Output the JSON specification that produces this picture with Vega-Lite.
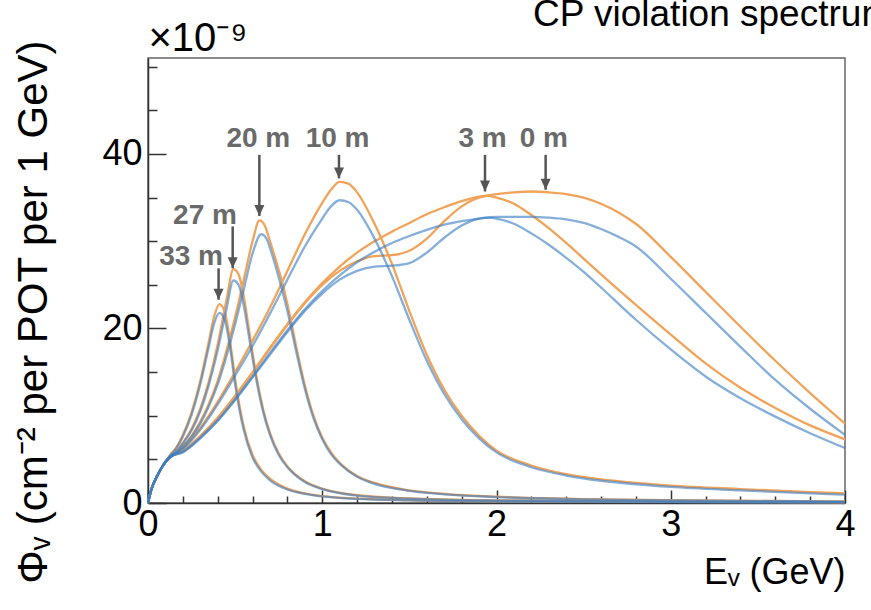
{
"$schema": "https://vega.github.io/schema/vega-lite/v6.json",
"width": 697, "height": 445,
"autosize": {"type": "none"},
"padding": {"left": 148, "top": 58, "right": 26, "bottom": 107},
"background": "white",
"config": {"view": {"stroke": "#666", "strokeWidth": 1.5}, "font": "Liberation Sans"},
"title": {"text": "CP violation spectrum", "anchor": "start", "frame": "group", "dx": 385, "dy": 45, "offset": 0, "baseline": "alphabetic", "fontSize": 37, "fontWeight": "normal", "color": "black", "font": "Liberation Sans"},
"datasets": {
"curves": [
{"d":"33 m","s":"o","E":0,"f":0},{"d":"33 m","s":"o","E":0.02,"f":1.6},{"d":"33 m","s":"o","E":0.05,"f":3.0},{"d":"33 m","s":"o","E":0.08,"f":4.1},{"d":"33 m","s":"o","E":0.1,"f":4.7},{"d":"33 m","s":"o","E":0.13,"f":5.6},{"d":"33 m","s":"o","E":0.16,"f":6.3},{"d":"33 m","s":"o","E":0.2,"f":7.8},{"d":"33 m","s":"o","E":0.25,"f":10.4},{"d":"33 m","s":"o","E":0.3,"f":14.0},{"d":"33 m","s":"o","E":0.35,"f":18.6},{"d":"33 m","s":"o","E":0.38,"f":21.4},{"d":"33 m","s":"o","E":0.41,"f":22.8},{"d":"33 m","s":"o","E":0.44,"f":21.9},{"d":"33 m","s":"o","E":0.47,"f":18.7},{"d":"33 m","s":"o","E":0.5,"f":14.2},{"d":"33 m","s":"o","E":0.55,"f":8.7},{"d":"33 m","s":"o","E":0.6,"f":5.5},{"d":"33 m","s":"o","E":0.65,"f":3.8},{"d":"33 m","s":"o","E":0.7,"f":2.8},{"d":"33 m","s":"o","E":0.8,"f":1.65},{"d":"33 m","s":"o","E":0.9,"f":1.1},{"d":"33 m","s":"o","E":1.0,"f":0.8},{"d":"33 m","s":"o","E":1.2,"f":0.5},{"d":"33 m","s":"o","E":1.5,"f":0.32},{"d":"33 m","s":"o","E":2.0,"f":0.2},{"d":"33 m","s":"o","E":3.0,"f":0.12},{"d":"33 m","s":"o","E":4.0,"f":0.08},
{"d":"33 m","s":"b","E":0,"f":0},{"d":"33 m","s":"b","E":0.02,"f":1.6},{"d":"33 m","s":"b","E":0.05,"f":3.0},{"d":"33 m","s":"b","E":0.08,"f":4.1},{"d":"33 m","s":"b","E":0.1,"f":4.7},{"d":"33 m","s":"b","E":0.13,"f":5.5},{"d":"33 m","s":"b","E":0.16,"f":6.2},{"d":"33 m","s":"b","E":0.2,"f":7.6},{"d":"33 m","s":"b","E":0.25,"f":10.1},{"d":"33 m","s":"b","E":0.3,"f":13.6},{"d":"33 m","s":"b","E":0.35,"f":18.0},{"d":"33 m","s":"b","E":0.38,"f":20.6},{"d":"33 m","s":"b","E":0.41,"f":21.8},{"d":"33 m","s":"b","E":0.44,"f":21.0},{"d":"33 m","s":"b","E":0.47,"f":18.0},{"d":"33 m","s":"b","E":0.5,"f":13.6},{"d":"33 m","s":"b","E":0.55,"f":8.3},{"d":"33 m","s":"b","E":0.6,"f":5.2},{"d":"33 m","s":"b","E":0.65,"f":3.6},{"d":"33 m","s":"b","E":0.7,"f":2.6},{"d":"33 m","s":"b","E":0.8,"f":1.55},{"d":"33 m","s":"b","E":0.9,"f":1.05},{"d":"33 m","s":"b","E":1.0,"f":0.75},{"d":"33 m","s":"b","E":1.2,"f":0.47},{"d":"33 m","s":"b","E":1.5,"f":0.3},{"d":"33 m","s":"b","E":2.0,"f":0.18},{"d":"33 m","s":"b","E":3.0,"f":0.1},{"d":"33 m","s":"b","E":4.0,"f":0.07},
{"d":"27 m","s":"o","E":0,"f":0},{"d":"27 m","s":"o","E":0.02,"f":1.6},{"d":"27 m","s":"o","E":0.05,"f":3.0},{"d":"27 m","s":"o","E":0.08,"f":4.1},{"d":"27 m","s":"o","E":0.1,"f":4.7},{"d":"27 m","s":"o","E":0.13,"f":5.4},{"d":"27 m","s":"o","E":0.16,"f":5.9},{"d":"27 m","s":"o","E":0.2,"f":6.9},{"d":"27 m","s":"o","E":0.25,"f":8.5},{"d":"27 m","s":"o","E":0.3,"f":10.8},{"d":"27 m","s":"o","E":0.35,"f":14.0},{"d":"27 m","s":"o","E":0.4,"f":18.2},{"d":"27 m","s":"o","E":0.45,"f":23.2},{"d":"27 m","s":"o","E":0.49,"f":26.8},{"d":"27 m","s":"o","E":0.52,"f":26.2},{"d":"27 m","s":"o","E":0.55,"f":23.6},{"d":"27 m","s":"o","E":0.58,"f":19.8},{"d":"27 m","s":"o","E":0.62,"f":14.8},{"d":"27 m","s":"o","E":0.66,"f":10.8},{"d":"27 m","s":"o","E":0.7,"f":8.0},{"d":"27 m","s":"o","E":0.75,"f":5.7},{"d":"27 m","s":"o","E":0.8,"f":4.2},{"d":"27 m","s":"o","E":0.9,"f":2.5},{"d":"27 m","s":"o","E":1.0,"f":1.65},{"d":"27 m","s":"o","E":1.2,"f":0.9},{"d":"27 m","s":"o","E":1.5,"f":0.52},{"d":"27 m","s":"o","E":2.0,"f":0.3},{"d":"27 m","s":"o","E":3.0,"f":0.16},{"d":"27 m","s":"o","E":4.0,"f":0.1},
{"d":"27 m","s":"b","E":0,"f":0},{"d":"27 m","s":"b","E":0.02,"f":1.6},{"d":"27 m","s":"b","E":0.05,"f":3.0},{"d":"27 m","s":"b","E":0.08,"f":4.1},{"d":"27 m","s":"b","E":0.1,"f":4.7},{"d":"27 m","s":"b","E":0.13,"f":5.4},{"d":"27 m","s":"b","E":0.16,"f":5.8},{"d":"27 m","s":"b","E":0.2,"f":6.8},{"d":"27 m","s":"b","E":0.25,"f":8.3},{"d":"27 m","s":"b","E":0.3,"f":10.5},{"d":"27 m","s":"b","E":0.35,"f":13.6},{"d":"27 m","s":"b","E":0.4,"f":17.5},{"d":"27 m","s":"b","E":0.45,"f":22.2},{"d":"27 m","s":"b","E":0.49,"f":25.5},{"d":"27 m","s":"b","E":0.52,"f":25.0},{"d":"27 m","s":"b","E":0.55,"f":22.6},{"d":"27 m","s":"b","E":0.58,"f":19.0},{"d":"27 m","s":"b","E":0.62,"f":14.3},{"d":"27 m","s":"b","E":0.66,"f":10.5},{"d":"27 m","s":"b","E":0.7,"f":7.8},{"d":"27 m","s":"b","E":0.75,"f":5.5},{"d":"27 m","s":"b","E":0.8,"f":4.1},{"d":"27 m","s":"b","E":0.9,"f":2.4},{"d":"27 m","s":"b","E":1.0,"f":1.6},{"d":"27 m","s":"b","E":1.2,"f":0.85},{"d":"27 m","s":"b","E":1.5,"f":0.5},{"d":"27 m","s":"b","E":2.0,"f":0.28},{"d":"27 m","s":"b","E":3.0,"f":0.15},{"d":"27 m","s":"b","E":4.0,"f":0.09},
{"d":"20 m","s":"o","E":0,"f":0},{"d":"20 m","s":"o","E":0.02,"f":1.6},{"d":"20 m","s":"o","E":0.05,"f":3.0},{"d":"20 m","s":"o","E":0.08,"f":4.1},{"d":"20 m","s":"o","E":0.1,"f":4.7},{"d":"20 m","s":"o","E":0.13,"f":5.3},{"d":"20 m","s":"o","E":0.16,"f":5.8},{"d":"20 m","s":"o","E":0.2,"f":6.5},{"d":"20 m","s":"o","E":0.25,"f":7.7},{"d":"20 m","s":"o","E":0.3,"f":9.3},{"d":"20 m","s":"o","E":0.35,"f":11.4},{"d":"20 m","s":"o","E":0.4,"f":14.0},{"d":"20 m","s":"o","E":0.45,"f":17.4},{"d":"20 m","s":"o","E":0.5,"f":21.3},{"d":"20 m","s":"o","E":0.55,"f":25.6},{"d":"20 m","s":"o","E":0.6,"f":30.0},{"d":"20 m","s":"o","E":0.64,"f":32.4},{"d":"20 m","s":"o","E":0.67,"f":31.8},{"d":"20 m","s":"o","E":0.7,"f":30.0},{"d":"20 m","s":"o","E":0.74,"f":27.4},{"d":"20 m","s":"o","E":0.77,"f":25.3},{"d":"20 m","s":"o","E":0.8,"f":22.8},{"d":"20 m","s":"o","E":0.85,"f":18.0},{"d":"20 m","s":"o","E":0.9,"f":13.5},{"d":"20 m","s":"o","E":0.95,"f":10.0},{"d":"20 m","s":"o","E":1.0,"f":7.5},{"d":"20 m","s":"o","E":1.05,"f":5.8},{"d":"20 m","s":"o","E":1.1,"f":4.6},{"d":"20 m","s":"o","E":1.2,"f":3.1},{"d":"20 m","s":"o","E":1.3,"f":2.3},{"d":"20 m","s":"o","E":1.5,"f":1.45},{"d":"20 m","s":"o","E":1.7,"f":1.05},{"d":"20 m","s":"o","E":2.0,"f":0.72},{"d":"20 m","s":"o","E":2.5,"f":0.45},{"d":"20 m","s":"o","E":3.0,"f":0.32},{"d":"20 m","s":"o","E":4.0,"f":0.18},
{"d":"20 m","s":"b","E":0,"f":0},{"d":"20 m","s":"b","E":0.02,"f":1.6},{"d":"20 m","s":"b","E":0.05,"f":3.0},{"d":"20 m","s":"b","E":0.08,"f":4.1},{"d":"20 m","s":"b","E":0.1,"f":4.7},{"d":"20 m","s":"b","E":0.13,"f":5.3},{"d":"20 m","s":"b","E":0.16,"f":5.7},{"d":"20 m","s":"b","E":0.2,"f":6.4},{"d":"20 m","s":"b","E":0.25,"f":7.6},{"d":"20 m","s":"b","E":0.3,"f":9.1},{"d":"20 m","s":"b","E":0.35,"f":11.1},{"d":"20 m","s":"b","E":0.4,"f":13.6},{"d":"20 m","s":"b","E":0.45,"f":16.8},{"d":"20 m","s":"b","E":0.5,"f":20.5},{"d":"20 m","s":"b","E":0.55,"f":24.5},{"d":"20 m","s":"b","E":0.6,"f":28.6},{"d":"20 m","s":"b","E":0.65,"f":30.8},{"d":"20 m","s":"b","E":0.68,"f":30.3},{"d":"20 m","s":"b","E":0.71,"f":28.6},{"d":"20 m","s":"b","E":0.74,"f":26.6},{"d":"20 m","s":"b","E":0.77,"f":24.4},{"d":"20 m","s":"b","E":0.8,"f":22.0},{"d":"20 m","s":"b","E":0.85,"f":17.4},{"d":"20 m","s":"b","E":0.9,"f":13.1},{"d":"20 m","s":"b","E":0.95,"f":9.7},{"d":"20 m","s":"b","E":1.0,"f":7.3},{"d":"20 m","s":"b","E":1.05,"f":5.6},{"d":"20 m","s":"b","E":1.1,"f":4.5},{"d":"20 m","s":"b","E":1.2,"f":3.0},{"d":"20 m","s":"b","E":1.3,"f":2.2},{"d":"20 m","s":"b","E":1.5,"f":1.4},{"d":"20 m","s":"b","E":1.7,"f":1.0},{"d":"20 m","s":"b","E":2.0,"f":0.68},{"d":"20 m","s":"b","E":2.5,"f":0.42},{"d":"20 m","s":"b","E":3.0,"f":0.3},{"d":"20 m","s":"b","E":4.0,"f":0.16},
{"d":"10 m","s":"o","E":0,"f":0},{"d":"10 m","s":"o","E":0.02,"f":1.6},{"d":"10 m","s":"o","E":0.05,"f":3.0},{"d":"10 m","s":"o","E":0.08,"f":4.1},{"d":"10 m","s":"o","E":0.1,"f":4.7},{"d":"10 m","s":"o","E":0.13,"f":5.3},{"d":"10 m","s":"o","E":0.2,"f":6.3},{"d":"10 m","s":"o","E":0.3,"f":8.6},{"d":"10 m","s":"o","E":0.4,"f":11.6},{"d":"10 m","s":"o","E":0.5,"f":15.0},{"d":"10 m","s":"o","E":0.6,"f":18.6},{"d":"10 m","s":"o","E":0.7,"f":22.4},{"d":"10 m","s":"o","E":0.8,"f":26.6},{"d":"10 m","s":"o","E":0.9,"f":30.8},{"d":"10 m","s":"o","E":1.0,"f":34.4},{"d":"10 m","s":"o","E":1.05,"f":35.9},{"d":"10 m","s":"o","E":1.1,"f":36.8},{"d":"10 m","s":"o","E":1.15,"f":36.6},{"d":"10 m","s":"o","E":1.2,"f":35.6},{"d":"10 m","s":"o","E":1.3,"f":32.0},{"d":"10 m","s":"o","E":1.4,"f":27.4},{"d":"10 m","s":"o","E":1.5,"f":22.0},{"d":"10 m","s":"o","E":1.6,"f":17.0},{"d":"10 m","s":"o","E":1.7,"f":13.0},{"d":"10 m","s":"o","E":1.8,"f":10.0},{"d":"10 m","s":"o","E":1.9,"f":7.7},{"d":"10 m","s":"o","E":2.0,"f":6.0},{"d":"10 m","s":"o","E":2.2,"f":4.3},{"d":"10 m","s":"o","E":2.4,"f":3.3},{"d":"10 m","s":"o","E":2.6,"f":2.7},{"d":"10 m","s":"o","E":2.8,"f":2.3},{"d":"10 m","s":"o","E":3.0,"f":2.0},{"d":"10 m","s":"o","E":3.4,"f":1.6},{"d":"10 m","s":"o","E":3.8,"f":1.25},{"d":"10 m","s":"o","E":4.0,"f":1.1},
{"d":"10 m","s":"b","E":0,"f":0},{"d":"10 m","s":"b","E":0.02,"f":1.6},{"d":"10 m","s":"b","E":0.05,"f":3.0},{"d":"10 m","s":"b","E":0.08,"f":4.1},{"d":"10 m","s":"b","E":0.1,"f":4.7},{"d":"10 m","s":"b","E":0.13,"f":5.3},{"d":"10 m","s":"b","E":0.2,"f":6.2},{"d":"10 m","s":"b","E":0.3,"f":8.4},{"d":"10 m","s":"b","E":0.4,"f":11.3},{"d":"10 m","s":"b","E":0.5,"f":14.6},{"d":"10 m","s":"b","E":0.6,"f":18.0},{"d":"10 m","s":"b","E":0.7,"f":21.7},{"d":"10 m","s":"b","E":0.8,"f":25.6},{"d":"10 m","s":"b","E":0.9,"f":29.4},{"d":"10 m","s":"b","E":1.0,"f":32.6},{"d":"10 m","s":"b","E":1.05,"f":34.0},{"d":"10 m","s":"b","E":1.1,"f":34.7},{"d":"10 m","s":"b","E":1.15,"f":34.5},{"d":"10 m","s":"b","E":1.2,"f":33.6},{"d":"10 m","s":"b","E":1.3,"f":30.3},{"d":"10 m","s":"b","E":1.4,"f":26.0},{"d":"10 m","s":"b","E":1.5,"f":21.0},{"d":"10 m","s":"b","E":1.6,"f":16.3},{"d":"10 m","s":"b","E":1.7,"f":12.5},{"d":"10 m","s":"b","E":1.8,"f":9.6},{"d":"10 m","s":"b","E":1.9,"f":7.4},{"d":"10 m","s":"b","E":2.0,"f":5.8},{"d":"10 m","s":"b","E":2.2,"f":4.1},{"d":"10 m","s":"b","E":2.4,"f":3.15},{"d":"10 m","s":"b","E":2.6,"f":2.55},{"d":"10 m","s":"b","E":2.8,"f":2.15},{"d":"10 m","s":"b","E":3.0,"f":1.85},{"d":"10 m","s":"b","E":3.4,"f":1.45},{"d":"10 m","s":"b","E":3.8,"f":1.1},{"d":"10 m","s":"b","E":4.0,"f":0.95},
{"d":"3 m","s":"o","E":0,"f":0},{"d":"3 m","s":"o","E":0.02,"f":1.6},{"d":"3 m","s":"o","E":0.05,"f":3.0},{"d":"3 m","s":"o","E":0.08,"f":4.1},{"d":"3 m","s":"o","E":0.1,"f":4.7},{"d":"3 m","s":"o","E":0.13,"f":5.3},{"d":"3 m","s":"o","E":0.2,"f":5.9},{"d":"3 m","s":"o","E":0.3,"f":7.6},{"d":"3 m","s":"o","E":0.4,"f":9.7},{"d":"3 m","s":"o","E":0.5,"f":12.2},{"d":"3 m","s":"o","E":0.6,"f":14.9},{"d":"3 m","s":"o","E":0.7,"f":17.7},{"d":"3 m","s":"o","E":0.8,"f":20.4},{"d":"3 m","s":"o","E":0.9,"f":22.9},{"d":"3 m","s":"o","E":1.0,"f":25.0},{"d":"3 m","s":"o","E":1.1,"f":26.6},{"d":"3 m","s":"o","E":1.2,"f":27.7},{"d":"3 m","s":"o","E":1.3,"f":28.3},{"d":"3 m","s":"o","E":1.4,"f":28.4},{"d":"3 m","s":"o","E":1.5,"f":28.9},{"d":"3 m","s":"o","E":1.6,"f":30.3},{"d":"3 m","s":"o","E":1.7,"f":32.3},{"d":"3 m","s":"o","E":1.8,"f":34.0},{"d":"3 m","s":"o","E":1.9,"f":35.0},{"d":"3 m","s":"o","E":1.95,"f":35.2},{"d":"3 m","s":"o","E":2.0,"f":35.0},{"d":"3 m","s":"o","E":2.1,"f":34.3},{"d":"3 m","s":"o","E":2.2,"f":33.0},{"d":"3 m","s":"o","E":2.3,"f":31.5},{"d":"3 m","s":"o","E":2.4,"f":29.8},{"d":"3 m","s":"o","E":2.5,"f":28.0},{"d":"3 m","s":"o","E":2.6,"f":26.2},{"d":"3 m","s":"o","E":2.8,"f":22.7},{"d":"3 m","s":"o","E":3.0,"f":19.3},{"d":"3 m","s":"o","E":3.2,"f":16.0},{"d":"3 m","s":"o","E":3.4,"f":13.2},{"d":"3 m","s":"o","E":3.6,"f":10.9},{"d":"3 m","s":"o","E":3.8,"f":8.9},{"d":"3 m","s":"o","E":4.0,"f":7.3},
{"d":"3 m","s":"b","E":0,"f":0},{"d":"3 m","s":"b","E":0.02,"f":1.6},{"d":"3 m","s":"b","E":0.05,"f":3.0},{"d":"3 m","s":"b","E":0.08,"f":4.1},{"d":"3 m","s":"b","E":0.1,"f":4.7},{"d":"3 m","s":"b","E":0.13,"f":5.3},{"d":"3 m","s":"b","E":0.2,"f":5.8},{"d":"3 m","s":"b","E":0.3,"f":7.4},{"d":"3 m","s":"b","E":0.4,"f":9.4},{"d":"3 m","s":"b","E":0.5,"f":11.8},{"d":"3 m","s":"b","E":0.6,"f":14.4},{"d":"3 m","s":"b","E":0.7,"f":17.0},{"d":"3 m","s":"b","E":0.8,"f":19.6},{"d":"3 m","s":"b","E":0.9,"f":22.0},{"d":"3 m","s":"b","E":1.0,"f":24.0},{"d":"3 m","s":"b","E":1.1,"f":25.6},{"d":"3 m","s":"b","E":1.2,"f":26.6},{"d":"3 m","s":"b","E":1.3,"f":27.1},{"d":"3 m","s":"b","E":1.4,"f":27.2},{"d":"3 m","s":"b","E":1.5,"f":27.5},{"d":"3 m","s":"b","E":1.6,"f":28.7},{"d":"3 m","s":"b","E":1.7,"f":30.4},{"d":"3 m","s":"b","E":1.8,"f":31.8},{"d":"3 m","s":"b","E":1.9,"f":32.6},{"d":"3 m","s":"b","E":1.95,"f":32.7},{"d":"3 m","s":"b","E":2.0,"f":32.6},{"d":"3 m","s":"b","E":2.1,"f":32.0},{"d":"3 m","s":"b","E":2.2,"f":30.9},{"d":"3 m","s":"b","E":2.3,"f":29.6},{"d":"3 m","s":"b","E":2.4,"f":28.1},{"d":"3 m","s":"b","E":2.5,"f":26.5},{"d":"3 m","s":"b","E":2.6,"f":24.7},{"d":"3 m","s":"b","E":2.8,"f":21.0},{"d":"3 m","s":"b","E":3.0,"f":17.6},{"d":"3 m","s":"b","E":3.2,"f":14.5},{"d":"3 m","s":"b","E":3.4,"f":12.0},{"d":"3 m","s":"b","E":3.6,"f":9.9},{"d":"3 m","s":"b","E":3.8,"f":8.0},{"d":"3 m","s":"b","E":4.0,"f":6.3},
{"d":"0 m","s":"o","E":0,"f":0},{"d":"0 m","s":"o","E":0.02,"f":1.6},{"d":"0 m","s":"o","E":0.05,"f":3.0},{"d":"0 m","s":"o","E":0.08,"f":4.1},{"d":"0 m","s":"o","E":0.1,"f":4.7},{"d":"0 m","s":"o","E":0.13,"f":5.3},{"d":"0 m","s":"o","E":0.2,"f":6.0},{"d":"0 m","s":"o","E":0.3,"f":7.7},{"d":"0 m","s":"o","E":0.4,"f":9.8},{"d":"0 m","s":"o","E":0.5,"f":12.3},{"d":"0 m","s":"o","E":0.6,"f":15.0},{"d":"0 m","s":"o","E":0.7,"f":17.8},{"d":"0 m","s":"o","E":0.8,"f":20.5},{"d":"0 m","s":"o","E":0.9,"f":23.0},{"d":"0 m","s":"o","E":1.0,"f":25.2},{"d":"0 m","s":"o","E":1.1,"f":27.1},{"d":"0 m","s":"o","E":1.2,"f":28.7},{"d":"0 m","s":"o","E":1.3,"f":30.0},{"d":"0 m","s":"o","E":1.4,"f":31.1},{"d":"0 m","s":"o","E":1.5,"f":32.1},{"d":"0 m","s":"o","E":1.6,"f":33.1},{"d":"0 m","s":"o","E":1.7,"f":33.9},{"d":"0 m","s":"o","E":1.8,"f":34.6},{"d":"0 m","s":"o","E":1.9,"f":35.1},{"d":"0 m","s":"o","E":2.0,"f":35.4},{"d":"0 m","s":"o","E":2.1,"f":35.6},{"d":"0 m","s":"o","E":2.2,"f":35.7},{"d":"0 m","s":"o","E":2.3,"f":35.6},{"d":"0 m","s":"o","E":2.4,"f":35.4},{"d":"0 m","s":"o","E":2.5,"f":35.0},{"d":"0 m","s":"o","E":2.6,"f":34.3},{"d":"0 m","s":"o","E":2.7,"f":33.3},{"d":"0 m","s":"o","E":2.8,"f":32.0},{"d":"0 m","s":"o","E":3.0,"f":28.2},{"d":"0 m","s":"o","E":3.2,"f":24.2},{"d":"0 m","s":"o","E":3.4,"f":20.2},{"d":"0 m","s":"o","E":3.6,"f":16.3},{"d":"0 m","s":"o","E":3.8,"f":12.6},{"d":"0 m","s":"o","E":4.0,"f":9.1},
{"d":"0 m","s":"b","E":0,"f":0},{"d":"0 m","s":"b","E":0.02,"f":1.6},{"d":"0 m","s":"b","E":0.05,"f":3.0},{"d":"0 m","s":"b","E":0.08,"f":4.1},{"d":"0 m","s":"b","E":0.1,"f":4.7},{"d":"0 m","s":"b","E":0.13,"f":5.3},{"d":"0 m","s":"b","E":0.2,"f":5.9},{"d":"0 m","s":"b","E":0.3,"f":7.5},{"d":"0 m","s":"b","E":0.4,"f":9.5},{"d":"0 m","s":"b","E":0.5,"f":11.9},{"d":"0 m","s":"b","E":0.6,"f":14.5},{"d":"0 m","s":"b","E":0.7,"f":17.2},{"d":"0 m","s":"b","E":0.8,"f":19.8},{"d":"0 m","s":"b","E":0.9,"f":22.2},{"d":"0 m","s":"b","E":1.0,"f":24.3},{"d":"0 m","s":"b","E":1.1,"f":26.1},{"d":"0 m","s":"b","E":1.2,"f":27.6},{"d":"0 m","s":"b","E":1.3,"f":28.8},{"d":"0 m","s":"b","E":1.4,"f":29.8},{"d":"0 m","s":"b","E":1.5,"f":30.6},{"d":"0 m","s":"b","E":1.6,"f":31.3},{"d":"0 m","s":"b","E":1.7,"f":31.9},{"d":"0 m","s":"b","E":1.8,"f":32.3},{"d":"0 m","s":"b","E":1.9,"f":32.6},{"d":"0 m","s":"b","E":2.0,"f":32.8},{"d":"0 m","s":"b","E":2.1,"f":32.8},{"d":"0 m","s":"b","E":2.2,"f":32.8},{"d":"0 m","s":"b","E":2.3,"f":32.7},{"d":"0 m","s":"b","E":2.4,"f":32.5},{"d":"0 m","s":"b","E":2.5,"f":32.1},{"d":"0 m","s":"b","E":2.6,"f":31.4},{"d":"0 m","s":"b","E":2.7,"f":30.5},{"d":"0 m","s":"b","E":2.8,"f":29.4},{"d":"0 m","s":"b","E":3.0,"f":25.7},{"d":"0 m","s":"b","E":3.2,"f":21.8},{"d":"0 m","s":"b","E":3.4,"f":17.9},{"d":"0 m","s":"b","E":3.6,"f":14.1},{"d":"0 m","s":"b","E":3.8,"f":10.8},{"d":"0 m","s":"b","E":4.0,"f":7.8}
],
"ann": [
{"label":"33 m","tx":0.247,"ty":27.3,"ax":0.405,"atop":26.9,"atip":23.3},
{"label":"27 m","tx":0.327,"ty":32.0,"ax":0.486,"atop":31.7,"atip":26.9},
{"label":"20 m","tx":0.633,"ty":40.8,"ax":0.639,"atop":39.9,"atip":32.9},
{"label":"10 m","tx":1.088,"ty":40.8,"ax":1.096,"atop":39.9,"atip":37.2},
{"label":"3 m","tx":1.92,"ty":40.8,"ax":1.934,"atop":39.9,"atip":35.7},
{"label":"0 m","tx":2.272,"ty":40.8,"ax":2.282,"atop":39.9,"atip":35.9}
]
},
"resolve": {"axis": {"x": "independent", "y": "independent"}},
"layer": [
{
"data": {"name": "curves"},
"transform": [{"filter": "datum.s === 'o'"}],
"mark": {"type": "line", "color": "#F2A35A", "strokeWidth": 2.3, "interpolate": "monotone"},
"encoding": {
"x": {"field": "E", "type": "quantitative", "scale": {"domain": [0, 4], "nice": false},
"axis": {"orient": "bottom", "values": [0, 1, 2, 3, 4], "format": "d", "grid": false, "tickSize": -13, "tickColor": "#333", "tickWidth": 1.5, "domainColor": "#333", "domainWidth": 1.5, "labelFontSize": 36, "labelColor": "black", "labelFont": "Liberation Sans", "labelPadding": 17, "labelFlush": false, "labelOverlap": false,
"title": "Eᵥ (GeV)", "titleFont": "Liberation Sans", "titleFontSize": 36, "titleFontWeight": "normal", "titleColor": "black", "titleX": 697, "titleY": 52, "titleAlign": "right", "titleBaseline": "top", "titleAngle": 0}},
"y": {"field": "f", "type": "quantitative", "scale": {"domain": [0, 51], "nice": false},
"axis": {"orient": "left", "values": [0, 20, 40], "format": "d", "grid": false, "tickSize": -18, "tickColor": "#333", "tickWidth": 1.5, "domainColor": "#333", "domainWidth": 1.5, "labelFontSize": 36, "labelColor": "black", "labelFont": "Liberation Sans", "labelPadding": 24, "labelFlush": false, "labelOverlap": false,
"title": "Φᵥ (cm⁻² per POT per 1 GeV)", "titleFont": "Liberation Sans", "titleFontSize": 42, "titleFontWeight": "normal", "titleColor": "black", "titleAngle": -90, "titleX": -135, "titleY": -18, "titleAlign": "right", "titleBaseline": "top"}},
"detail": {"field": "d"}
}
},
{
"data": {"name": "curves"},
"transform": [{"filter": "datum.s === 'b'"}],
"mark": {"type": "line", "color": "#3A7EC4", "opacity": 0.62, "strokeWidth": 2.3, "interpolate": "monotone"},
"encoding": {
"x": {"field": "E", "type": "quantitative", "scale": {"domain": [0, 4], "nice": false},
"axis": {"orient": "bottom", "values": [0.2, 0.4, 0.6, 0.8, 1.2, 1.4, 1.6, 1.8, 2.2, 2.4, 2.6, 2.8, 3.2, 3.4, 3.6, 3.8], "grid": false, "labels": false, "domain": false, "tickSize": -7, "tickColor": "#333", "tickWidth": 1.5, "title": null}},
"y": {"field": "f", "type": "quantitative", "scale": {"domain": [0, 51], "nice": false},
"axis": {"orient": "left", "values": [5, 10, 15, 25, 30, 35, 45, 50], "grid": false, "labels": false, "domain": false, "tickSize": -9, "tickColor": "#333", "tickWidth": 1.5,
"title": "×10⁻⁹", "titleFont": "Liberation Sans", "titleFontSize": 40, "titleFontWeight": "normal", "titleColor": "black", "titleAngle": 0, "titleX": 0, "titleY": -8, "titleAlign": "left", "titleBaseline": "alphabetic"}},
"detail": {"field": "d"}
}
},
{
"data": {"name": "ann"},
"mark": {"type": "rule", "color": "#555", "strokeWidth": 2.5},
"encoding": {
"x": {"field": "ax", "type": "quantitative", "scale": {"domain": [0, 4], "nice": false}, "axis": null},
"y": {"field": "atop", "type": "quantitative", "scale": {"domain": [0, 51], "nice": false}, "axis": null},
"y2": {"field": "atip"}
}
},
{
"data": {"name": "ann"},
"mark": {"type": "point", "shape": "M-1,-2.2L1,-2.2L0,0Z", "size": 100, "filled": true, "color": "#555", "opacity": 1},
"encoding": {
"x": {"field": "ax", "type": "quantitative", "scale": {"domain": [0, 4], "nice": false}, "axis": null},
"y": {"field": "atip", "type": "quantitative", "scale": {"domain": [0, 51], "nice": false}, "axis": null}
}
},
{
"data": {"name": "ann"},
"mark": {"type": "text", "font": "Liberation Sans", "fontSize": 28, "fontWeight": "bold", "color": "#6a6a6a", "align": "center", "baseline": "alphabetic"},
"encoding": {
"x": {"field": "tx", "type": "quantitative", "scale": {"domain": [0, 4], "nice": false}, "axis": null},
"y": {"field": "ty", "type": "quantitative", "scale": {"domain": [0, 51], "nice": false}, "axis": null},
"text": {"field": "label"}
}
}
]
}
